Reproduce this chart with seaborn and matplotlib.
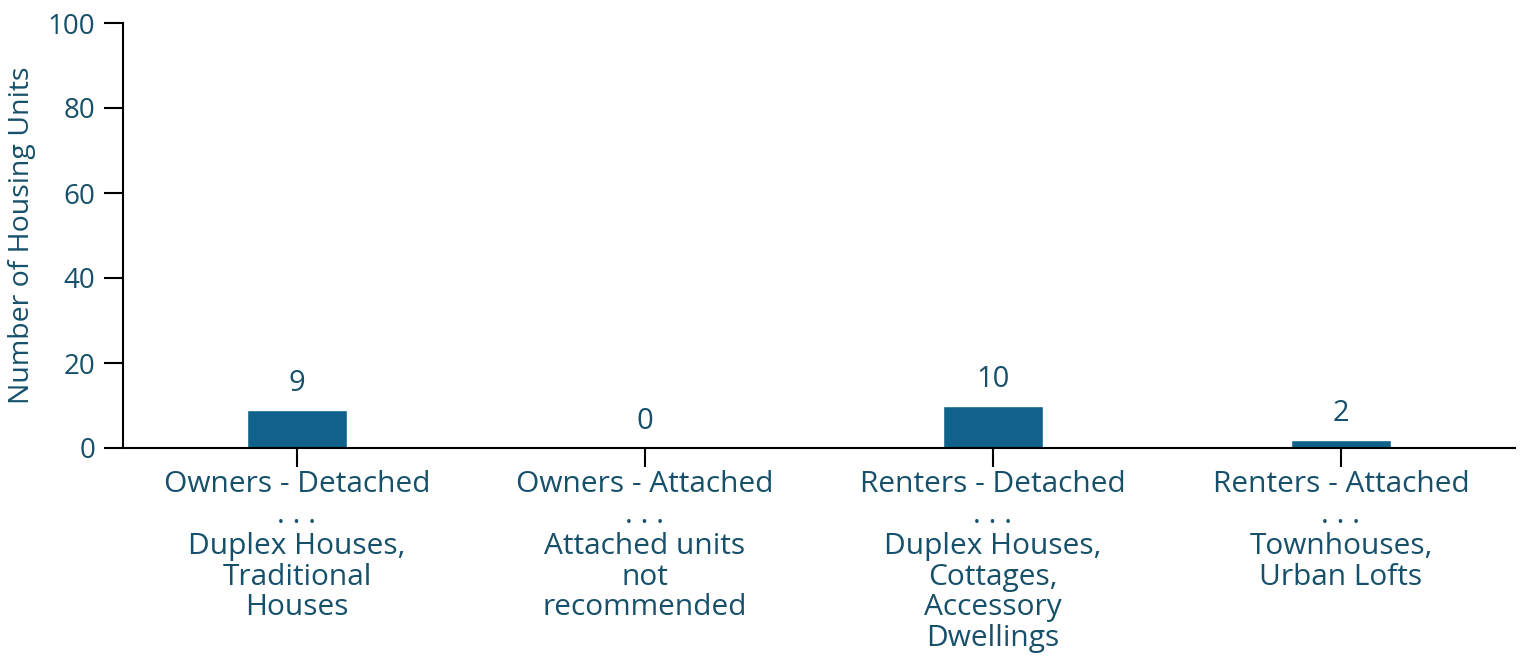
import matplotlib
matplotlib.use("Agg")
import matplotlib.pyplot as plt
import seaborn as sns
import pandas as pd

categories = [
    "Owners - Detached\n. . .\nDuplex Houses,\nTraditional\nHouses",
    "Owners - Attached\n. . .\nAttached units\nnot\nrecommended",
    "Renters - Detached\n. . .\nDuplex Houses,\nCottages,\nAccessory\nDwellings",
    "Renters - Attached\n. . .\nTownhouses,\nUrban Lofts",
]
values = [9, 0, 10, 2]
y_ticks = [0, 20, 40, 60, 80, 100]

text_color = "#17506a"
bar_color = "#10628a"

sns.set_theme(style="white")
plt.rcParams['font.family'] = ['Open Sans', 'DejaVu Sans']

df = pd.DataFrame({"cat": categories, "val": values})

fig = plt.figure(figsize=(15.23, 6.58), dpi=100)
ax = fig.add_axes([123/1523, 1-448/658, (1515-123)/1523, (448-23)/658])

sns.barplot(data=df, x="cat", y="val", color=bar_color, width=0.29,
            saturation=1, ax=ax)

ax.set_ylim(0, 100)
ax.set_xlim(-0.5, 3.5)
ax.set_yticks(y_ticks)
ax.set_yticklabels([str(t) for t in y_ticks])
ax.set_xlabel("")
ax.set_ylabel("Number of Housing Units", fontsize=20.5, color=text_color, labelpad=8)

for s in ["top", "right"]:
    ax.spines[s].set_visible(False)
for s in ["left", "bottom"]:
    ax.spines[s].set_color("black")
    ax.spines[s].set_linewidth(1.5)

ax.tick_params(axis="both", which="major", bottom=True, left=True, length=14,
               width=1.5, color="black", labelcolor=text_color, labelsize=20,
               direction="out")
ax.tick_params(axis="y", pad=6)
ax.tick_params(axis="x", pad=2)
for lbl in ax.get_xticklabels():
    lbl.set_linespacing(1.08)
    lbl.set_fontsize(21.5)

for i, v in enumerate(values):
    ax.annotate(str(v), xy=(i, v), xytext=(0, 8.5), textcoords="offset points",
                ha="center", va="bottom", fontsize=21, color=text_color)

fig.savefig("out.png", dpi=100)
